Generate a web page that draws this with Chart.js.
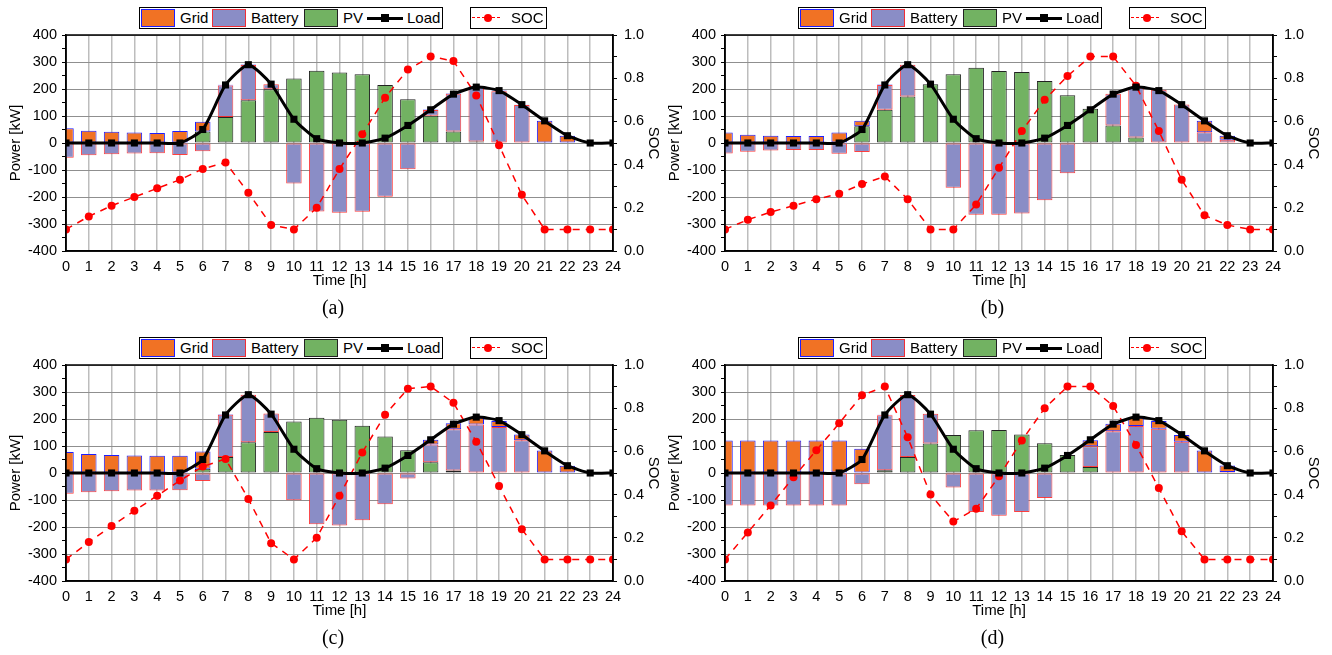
<!DOCTYPE html>
<html>
<head>
<meta charset="utf-8">
<script src="https://cdn.jsdelivr.net/npm/chart.js"></script>
<title>Power dispatch</title>
<style>
  body { margin: 0; background: #fff; width: 1332px; height: 655px; position: relative; overflow: hidden;
         font-family: 'Liberation Sans', Arial, sans-serif; }
  canvas { position: absolute; }
  .lg { position: absolute; height: 20px; border: 1px solid #000; background: #fff; }
  .lg span { position: absolute; display: block; }
  .sw { top: 1px; height: 16px; border: 1px solid; }
  .tx { top: 0; line-height: 20px; font-size: 15px; color: #000; white-space: nowrap; }
</style>
</head>
<body>

<canvas id="chartA" width="666" height="325" style="left:0;top:0"></canvas>
<canvas id="chartB" width="667" height="325" style="left:659px;top:0"></canvas>
<canvas id="chartC" width="666" height="325" style="left:0;top:330px"></canvas>
<canvas id="chartD" width="667" height="325" style="left:659px;top:330px"></canvas>

<script>
// tick labels of the time axis
const hours = ['0','1','2','3','4','5','6','7','8','9','10','11','12','13','14','15','16','17','18','19','20','21','22','23','24'];

// load is the same in every case
const load = [0, 0, 0, 0, 0, 0, 50, 215, 290, 218, 88, 16, 0, 0, 18, 65, 123, 181, 207, 194, 142, 82, 27, 0, 0];

// (a)
const gridA    = [55, 45, 42, 39, 37, 44, 36, 3, 2, 0, 0, 0, 0, 0, 0, 0, 2, 2, 2, 2, 1, 82, 27, 1];
const batteryA = [-55, -45, -42, -39, -38, -44, -31, 117, 131, 19, -150, -254, -258, -255, -199, -97, 21, 139, 201, 192, 141, 0, 0, 0];
const pvA      = [0, 0, 0, 0, 0, 0, 43, 96, 158, 199, 239, 268, 261, 255, 215, 162, 101, 43, 6, 0, 0, 0, 0, 0];
const socA     = [0.10, 0.16, 0.21, 0.25, 0.29, 0.33, 0.38, 0.41, 0.27, 0.12, 0.10, 0.20, 0.38, 0.54, 0.71, 0.84, 0.90, 0.88, 0.72, 0.49, 0.26, 0.10, 0.10, 0.10, 0.10];

// (b)
const gridB    = [39, 31, 27, 26, 26, 39, 20, 2, 0, 0, 0, 0, 0, 0, 0, 0, 0, 0, 2, 0, 0, 42, 15, 1];
const batteryB = [-39, -32, -28, -26, -26, -40, -33, 92, 118, 0, -166, -266, -266, -261, -212, -112, -3, 117, 185, 197, 143, 40, 12, 0];
const pvB      = [0, 0, 0, 0, 0, 0, 62, 123, 172, 218, 255, 279, 267, 263, 230, 177, 127, 65, 20, 0, 0, 0, 0, 0];
const socB     = [0.10, 0.145, 0.18, 0.21, 0.24, 0.265, 0.31, 0.345, 0.24, 0.10, 0.10, 0.215, 0.385, 0.555, 0.70, 0.81, 0.90, 0.90, 0.765, 0.555, 0.33, 0.165, 0.12, 0.10, 0.10];

// (c)
const gridC    = [78, 70, 67, 65, 64, 64, 64, 2, 0, 0, 0, 0, 0, 0, 0, 0, 17, 22, 25, 23, 22, 83, 27, 1];
const batteryC = [-77, -71, -68, -65, -65, -64, -30, 157, 176, 68, -101, -190, -194, -175, -116, -20, 66, 153, 180, 170, 121, 0, 0, 0];
const pvC      = [0, 0, 0, 0, 0, 0, 16, 59, 114, 152, 191, 205, 197, 175, 135, 84, 40, 9, 0, 0, 0, 0, 0, 0];
const socC     = [0.10, 0.18, 0.255, 0.325, 0.395, 0.465, 0.53, 0.565, 0.38, 0.175, 0.10, 0.20, 0.395, 0.595, 0.77, 0.89, 0.90, 0.825, 0.645, 0.44, 0.24, 0.10, 0.10, 0.10, 0.10];

// (d)
const gridD    = [120, 120, 120, 120, 120, 120, 90, 2, 0, 0, 0, 0, 0, 0, 0, 0, 22, 27, 31, 29, 25, 83, 24, 1];
const batteryD = [-120, -120, -120, -120, -120, -120, -42, 204, 230, 110, -54, -144, -158, -144, -93, -3, 77, 155, 174, 164, 116, 0, 4, 0];
const pvD      = [0, 0, 0, 0, 0, 0, 0, 10, 59, 109, 141, 158, 159, 143, 110, 67, 22, 0, 0, 0, 0, 0, 0, 0];
const socD     = [0.10, 0.225, 0.35, 0.48, 0.605, 0.73, 0.86, 0.90, 0.665, 0.40, 0.275, 0.335, 0.485, 0.65, 0.80, 0.90, 0.90, 0.81, 0.63, 0.43, 0.23, 0.10, 0.10, 0.10, 0.10];

const ORANGE = 'rgb(241,114,36)';
const BLUE = 'rgb(30,30,255)';
const LAVENDER = 'rgb(138,141,198)';
const RED = 'rgba(255,30,30,0.85)';
const GREEN = 'rgb(114,178,98)';

Chart.defaults.font.family = "'Liberation Sans', Arial, sans-serif";
Chart.defaults.color = '#000';

// black frame round the plot area (top edge included)
const frame = {
    id: 'frame',
    afterDraw(chart) {
        const {ctx, chartArea: a} = chart;
        ctx.save();
        ctx.strokeStyle = '#000';
        ctx.lineWidth = 1.5;
        ctx.strokeRect(a.left, a.top, a.right - a.left, a.bottom - a.top);
        ctx.restore();
    }
};

function drawPanel(id, label, grid, battery, pv, soc) {
    return new Chart(document.getElementById(id), {
        type: 'bar',
        data: {
            labels: hours,
            datasets: [
                {
                    type: 'line', label: 'Load', data: load, yAxisID: 'y', stack: 'load',
                    borderColor: '#000', backgroundColor: '#000', borderWidth: 3,
                    pointStyle: 'rect', pointRadius: 5, pointBorderWidth: 0,
                    tension: 0.2, clip: 0
                },
                {
                    type: 'line', label: 'SOC', data: soc, yAxisID: 'soc',
                    borderColor: 'rgb(255,0,0)', backgroundColor: 'rgb(255,0,0)', borderWidth: 1.5,
                    borderDash: [7, 6], pointRadius: 4, pointBorderWidth: 0, clip: 0
                },
                { label: 'PV', data: pv, stack: 'power', backgroundColor: GREEN, borderColor: '#222', borderWidth: 1, borderSkipped: false, clip: 0 },
                { label: 'Battery', data: battery, stack: 'power', backgroundColor: LAVENDER, borderColor: RED, borderWidth: 1, borderSkipped: false, clip: 0 },
                { label: 'Grid', data: grid, stack: 'power', backgroundColor: ORANGE, borderColor: BLUE, borderWidth: 1, borderSkipped: false, clip: 0 }
            ]
        },
        options: {
            responsive: false,
            animation: false,
            devicePixelRatio: 1,
            categoryPercentage: 0.68,
            barPercentage: 1,
            layout: { padding: { top: 35, left: 0, right: 0, bottom: 0 } },
            plugins: {
                legend: { display: false },
                tooltip: { enabled: false },
                title: {
                    display: true, text: label, position: 'bottom', color: '#000',
                    font: { family: "'Liberation Serif', 'Times New Roman', serif", size: 20, weight: 'normal' },
                    padding: { top: 4, bottom: 4 }
                }
            },
            scales: {
                x: {
                    stacked: true,
                    offset: false,
                    grid: { offset: false, color: '#bdbdbd', lineWidth: 1.5, tickLength: 4, tickColor: 'rgba(0,0,0,0)' },
                    border: { color: '#000', width: 1.5 },
                    ticks: { color: '#000', font: { size: 14.5 }, padding: 3, maxRotation: 0, autoSkip: false },
                    title: { display: true, text: 'Time [h]', color: '#000', font: { size: 15 }, padding: { top: 0, bottom: 3 } },
                    afterFit: s => { s.height = 42; }
                },
                y: {
                    stacked: true,
                    position: 'left',
                    min: -400, max: 400,
                    ticks: {
                        stepSize: 50, maxTicksLimit: 20, autoSkip: false, color: '#000', font: { size: 14.5 }, padding: 5,
                        callback: v => (v % 100 === 0 ? v : '')
                    },
                    grid: {
                        color: c => (c.tick && c.tick.value % 100 === 0 ? '#8f8f8f' : 'rgba(0,0,0,0)'),
                        tickColor: '#000', tickLength: 4
                    },
                    border: { color: '#000', width: 1.5 },
                    title: { display: true, text: 'Power [kW]', color: '#000', font: { size: 15 }, padding: { top: 7, bottom: 0 } },
                    afterFit: s => { s.width = 66; }
                },
                soc: {
                    position: 'right',
                    min: 0, max: 1,
                    ticks: {
                        stepSize: 0.1, autoSkip: false, color: '#000', font: { size: 14.5 }, padding: 7,
                        callback: v => (Math.round(v * 10) % 2 === 0 ? v.toFixed(1) : '')
                    },
                    grid: { drawOnChartArea: false, tickColor: '#000', tickLength: 4 },
                    border: { color: '#000', width: 1.5 },
                    title: { display: true, text: 'SOC', color: '#000', font: { size: 15 }, padding: { top: 4, bottom: 0 } },
                    afterFit: s => { s.width = 53; }
                }
            }
        },
        plugins: [frame]
    });
}

function addLegend(left, top) {
    const box = document.createElement('div');
    box.className = 'lg';
    box.style.left = left + 'px';
    box.style.top = top + 'px';
    box.style.width = '302px';
    box.innerHTML = `
        <span class="sw" style="left:1px;width:32px;background:${ORANGE};border-color:${BLUE}"></span>
        <span class="tx" style="left:40px">Grid</span>
        <span class="sw" style="left:72px;width:32px;background:${LAVENDER};border-color:${RED}"></span>
        <span class="tx" style="left:111px">Battery</span>
        <span class="sw" style="left:164px;width:32px;background:${GREEN};border-color:#222"></span>
        <span class="tx" style="left:203px">PV</span>
        <span style="left:227px;top:8.5px;width:36px;height:3px;background:#000"></span>
        <span style="left:241px;top:6px;width:8px;height:8px;background:#000"></span>
        <span class="tx" style="left:267px">Load</span>`;
    document.body.appendChild(box);

    const soc = document.createElement('div');
    soc.className = 'lg';
    soc.style.left = (left + 331) + 'px';
    soc.style.top = top + 'px';
    soc.style.width = '75px';
    soc.innerHTML = `
        <span style="left:1px;top:9px;width:28px;height:0;border-top:1.5px dashed rgb(255,0,0)"></span>
        <span style="left:13px;top:6px;width:8px;height:8px;border-radius:50%;background:rgb(255,0,0)"></span>
        <span class="tx" style="left:40px">SOC</span>`;
    document.body.appendChild(soc);
}

drawPanel('chartA', '(a)', gridA, batteryA, pvA, socA);
drawPanel('chartB', '(b)', gridB, batteryB, pvB, socB);
drawPanel('chartC', '(c)', gridC, batteryC, pvC, socC);
drawPanel('chartD', '(d)', gridD, batteryD, pvD, socD);

addLegend(139, 7);
addLegend(798, 7);
addLegend(139, 337);
addLegend(798, 337);
</script>

</body>
</html>
